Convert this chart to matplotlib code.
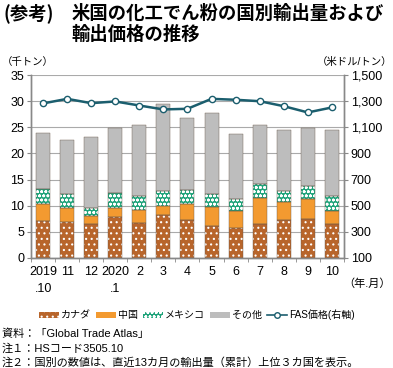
import matplotlib
matplotlib.use('Agg')
import matplotlib.pyplot as plt
import numpy as np

plt.rcParams['font.family'] = ['Liberation Sans', 'Noto Sans CJK JP', 'DejaVu Sans']
plt.rcParams['hatch.linewidth'] = 0.8

months = ['2019\n.10', '11', '12', '2020\n.1', '2', '3', '4', '5', '6', '7', '8', '9', '10']
canada = [7.15, 6.8, 6.45, 7.8, 6.65, 8.3, 7.3, 6.05, 5.8, 6.45, 7.35, 7.5, 6.45]
china = [3.2, 2.8, 1.55, 1.8, 2.6, 1.65, 3.05, 3.65, 3.2, 5.05, 3.35, 3.85, 2.6]
mexico = [2.8, 2.6, 1.65, 2.8, 2.65, 2.95, 2.75, 2.6, 2.2, 2.7, 2.2, 2.5, 2.75]
other = [10.85, 10.3, 13.55, 12.4, 13.45, 16.65, 13.6, 15.35, 12.5, 11.15, 11.5, 10.95, 12.6]
fas_price = [1283, 1318, 1285, 1298, 1267, 1237, 1242, 1318, 1311, 1300, 1262, 1214, 1252]

fig = plt.figure(figsize=(3.93, 3.68), dpi=100)
ax1 = fig.add_axes([0.079, 0.299, 0.796, 0.497])
ax2 = ax1.twinx()

x = np.arange(len(months))
w = 0.58
series = [
    ('カナダ', canada, '#B8652B', '...'),
    ('中国', china, '#F39A30', None),
    ('メキシコ', mexico, '#1FA37A', 'oooo'),
    ('その他', other, '#BDBDBD', None),
]
bottom = np.zeros(len(months))
handles = []
for name, vals, col, hatch in series:
    ax1.bar(x, vals, w, bottom=bottom, color=col, hatch=hatch,
            edgecolor='white' if hatch else col, linewidth=0, zorder=2)
    ax1.bar(x, vals, w, bottom=bottom, facecolor='none',
            edgecolor='#6a5a4a', linewidth=0.3, zorder=3)
    handles.append(plt.Rectangle((0, 0), 1, 1, facecolor=col, hatch=hatch,
                                 edgecolor='white' if hatch else col, linewidth=0))
    bottom += np.array(vals)

ax2.plot(x, fas_price, color='#1B5E6E', linewidth=1.8, marker='o', markersize=4.5,
         markerfacecolor='white', markeredgecolor='#1B5E6E', markeredgewidth=1, zorder=5)
line_handle = plt.Line2D([], [], color='#1B5E6E', linewidth=1.2, marker='o', markersize=4,
                         markerfacecolor='white', markeredgecolor='#1B5E6E')

ax1.set_xlim(-0.5, len(months) - 0.5)
ax1.set_ylim(0, 35)
ax1.set_yticks(range(0, 36, 5))
ax2.set_ylim(100, 1500)
ax2.set_yticks(range(100, 1501, 200))
ax2.set_yticklabels([f'{v:,}' for v in range(100, 1501, 200)])
ax1.set_xticks(x)
ax1.set_xticklabels(months, fontsize=9, linespacing=1.5)
ax1.set_xticks(np.arange(-0.5, len(months), 1), minor=True)
ax1.tick_params(axis='x', which='major', length=0, pad=6)
ax1.tick_params(axis='x', which='minor', length=3, color='#888888')
ax1.tick_params(axis='y', labelsize=9, length=3, color='#888888', pad=2)
ax2.tick_params(axis='y', labelsize=9, length=3, color='#888888', pad=2)

ax1.grid(axis='y', color='#AAAAAA', linewidth=0.8, zorder=0)
ax1.set_axisbelow(True)
for a in (ax1, ax2):
    a.spines['top'].set_visible(False)
    for s in ('left', 'right', 'bottom'):
        a.spines[s].set_color('#888888')
        a.spines[s].set_linewidth(1.0)

fig.text(0.008, 0.965, '(参考)', fontsize=13.2, fontweight='bold', va='center',
         family=['Noto Sans CJK JP'])
fig.text(0.183, 0.965, '米国の化工でん粉の国別輸出量および', fontsize=13.2,
         fontweight='bold', va='center', family=['Noto Sans CJK JP'])
fig.text(0.183, 0.907, '輸出価格の推移', fontsize=13.2, fontweight='bold', va='center',
         family=['Noto Sans CJK JP'])
fig.text(0.005, 0.832, '（千トン）', fontsize=7.5, va='center')
fig.text(0.998, 0.832, '（米ドル/トン）', fontsize=7.5, va='center', ha='right')
fig.text(0.995, 0.23, '（年.月）', fontsize=8, va='center', ha='right')

fig.legend(handles + [line_handle], ['カナダ', '中国', 'メキシコ', 'その他', 'FAS価格(右軸)'],
           loc='center', bbox_to_anchor=(0.5, 0.144), ncol=5, frameon=False, fontsize=7.2,
           handlelength=2.0, handleheight=0.45, handletextpad=0.2, columnspacing=0.5,
           borderpad=0, borderaxespad=0)

fig.text(0.005, 0.092, '資料：「Global Trade Atlas」', fontsize=8, va='center')
fig.text(0.005, 0.054, '注１：HSコード3505.10', fontsize=8, va='center')
fig.text(0.005, 0.016, '注２：国別の数値は、直近13カ月の輸出量（累計）上位３カ国を表示。',
         fontsize=8, va='center')

fig.savefig('out.png', dpi=100)
